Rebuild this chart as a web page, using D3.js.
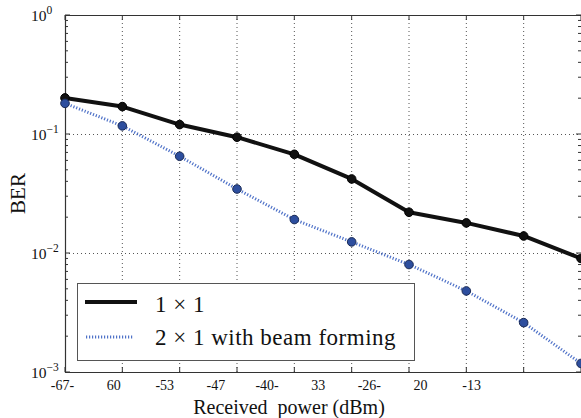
<!DOCTYPE html>
<html><head><meta charset="utf-8">
<script src="https://cdn.jsdelivr.net/npm/d3@7"></script>
<style>body{margin:0;background:#fff}svg{display:block}text{font-family:"Liberation Serif","DejaVu Serif","Times New Roman",Times,serif}</style>
</head><body><svg width="581" height="418"></svg>
<script>
const xIndex = [0,1,2,3,4,5,6,7,8,9];
const xTickLabels = ["-67-","60","-53","-47","-40-","33","-26-","20","-13",""];
const ber1x1 = [0.201,0.170,0.120,0.094,0.0675,0.0419,0.0220,0.0179,0.0139,0.0090];
const ber2x1 = [0.181,0.117,0.065,0.0345,0.0191,0.0124,0.0080,0.0048,0.0026,0.00118];
const yTickExps = [0,-1,-2,-3];
const seriesNames = ["1 \u00d7 1","2 \u00d7 1 with beam forming"];
const xTitle = "Received\u00a0 power (dBm)";
const yTitle = "BER";

const FONT = "Liberation Serif";
const svg = d3.select("svg");
const L = 65, R = 581, T = 15, B = 372;
const x = d3.scaleLinear().domain([0, 9]).range([L, R]);
const y = d3.scaleLog().domain([1e-3, 1]).range([B, T]);
// tick labels in the source are placed on a compressed spacing
const xl = d3.scaleLinear().domain([0, 9]).range([L - 2.5, L - 2.5 + (R - L) * 0.892]);

// grid
const g = svg.append("g");
g.selectAll(".vg").data(xIndex.slice(1, 9)).join("line")
  .attr("x1", d => x(d)).attr("x2", d => x(d)).attr("y1", T).attr("y2", B)
  .attr("stroke", "#555").attr("stroke-width", 1).attr("stroke-dasharray", "1,3");
g.selectAll(".hg").data(yTickExps.slice(1, 3)).join("line")
  .attr("x1", L).attr("x2", R).attr("y1", d => Math.round(y(Math.pow(10, d))) + 0.5).attr("y2", d => Math.round(y(Math.pow(10, d))) + 0.5)
  .attr("stroke", "#555").attr("stroke-width", 1).attr("stroke-dasharray", "1,3");

// frame
svg.append("path").attr("d", `M${R},${T + 0.5}H${L + 0.5}V${B + 0.5}H${R}`)
  .attr("fill", "none").attr("stroke", "#333").attr("stroke-width", 1.2);

// x ticks
const xt = svg.append("g");
xIndex.forEach(i => {
  xt.append("line").attr("x1", x(i)).attr("x2", x(i)).attr("y1", B).attr("y2", B - 5).attr("stroke", "#333");
  xt.append("line").attr("x1", x(i)).attr("x2", x(i)).attr("y1", T).attr("y2", T + 5).attr("stroke", "#333");
});
xt.selectAll("text").data(xIndex).join("text")
  .attr("x", d => xl(d)).attr("y", 390).attr("text-anchor", "middle")
  .attr("font-family", FONT).attr("font-size", 14).attr("fill", "#111").text(d => xTickLabels[d]);

// y ticks
const yt = svg.append("g");
yTickExps.forEach(e => {
  const v = Math.pow(10, e);
  yt.append("line").attr("x1", L).attr("x2", L + 5).attr("y1", y(v)).attr("y2", y(v)).attr("stroke", "#333");
  yt.append("line").attr("x1", R).attr("x2", R - 5).attr("y1", y(v)).attr("y2", y(v)).attr("stroke", "#333");
  if (e < 0) {
    for (let m = 2; m <= 9; m++) {
      const yv = y(m * v);
      yt.append("line").attr("x1", L).attr("x2", L + 3).attr("y1", yv).attr("y2", yv).attr("stroke", "#333");
      yt.append("line").attr("x1", R).attr("x2", R - 3).attr("y1", yv).attr("y2", yv).attr("stroke", "#333");
    }
  }
  const t = yt.append("text").attr("x", 31).attr("y", y(v) + 6).attr("fill", "#111").attr("font-family", FONT);
  t.append("tspan").attr("font-size", 15.5).text("10");
  t.append("tspan").attr("font-size", 11.5).attr("dy", -7).text(e === 0 ? "0" : "\u2212" + (-e));
});

// axis titles
svg.append("text").attr("x", 289).attr("y", 414).attr("text-anchor", "middle")
  .attr("font-family", FONT).attr("font-size", 20).attr("fill", "#111").text(xTitle);
svg.append("text").attr("transform", `translate(25,${(T + B) / 2}) rotate(-90)`)
  .attr("font-family", FONT).attr("text-anchor", "middle").attr("font-size", 21).attr("fill", "#111").text(yTitle);

// series
const line = d3.line().x((d, i) => x(xIndex[i])).y(d => y(d));
svg.append("path").datum(ber1x1).attr("d", line).attr("fill", "none")
  .attr("stroke", "#111").attr("stroke-width", 4).attr("stroke-linejoin", "round");
svg.selectAll(".m1").data(ber1x1).join("circle")
  .attr("cx", (d, i) => x(xIndex[i])).attr("cy", d => y(d)).attr("r", 4.3)
  .attr("fill", "#111").attr("stroke", "#000");
svg.append("path").datum(ber2x1).attr("d", line).attr("fill", "none")
  .attr("stroke", "#4f72c8").attr("stroke-width", 3).attr("stroke-dasharray", "1.2,1.8");
svg.selectAll(".m2").data(ber2x1).join("circle")
  .attr("cx", (d, i) => x(xIndex[i])).attr("cy", d => y(d)).attr("r", 4.3)
  .attr("fill", "#2d4e9e").attr("stroke", "#1b2b55").attr("stroke-width", 1);

// legend
const lg = svg.append("g");
lg.append("rect").attr("x", 77.5).attr("y", 283.5).attr("width", 337).attr("height", 77)
  .attr("fill", "#fff").attr("stroke", "#555").attr("stroke-width", 1);
lg.append("line").attr("x1", 85).attr("x2", 137).attr("y1", 302).attr("y2", 302)
  .attr("stroke", "#111").attr("stroke-width", 4);
lg.append("line").attr("x1", 86).attr("x2", 133).attr("y1", 337).attr("y2", 337)
  .attr("stroke", "#4f72c8").attr("stroke-width", 3).attr("stroke-dasharray", "1.2,1.8");
lg.selectAll("text").data(seriesNames).join("text")
  .attr("x", 155).attr("y", (d, i) => 311.5 + i * 33.5).attr("font-family", FONT)
  .attr("font-size", 23).attr("letter-spacing", 0.5).attr("fill", "#111").text(d => d);
</script></body></html>
